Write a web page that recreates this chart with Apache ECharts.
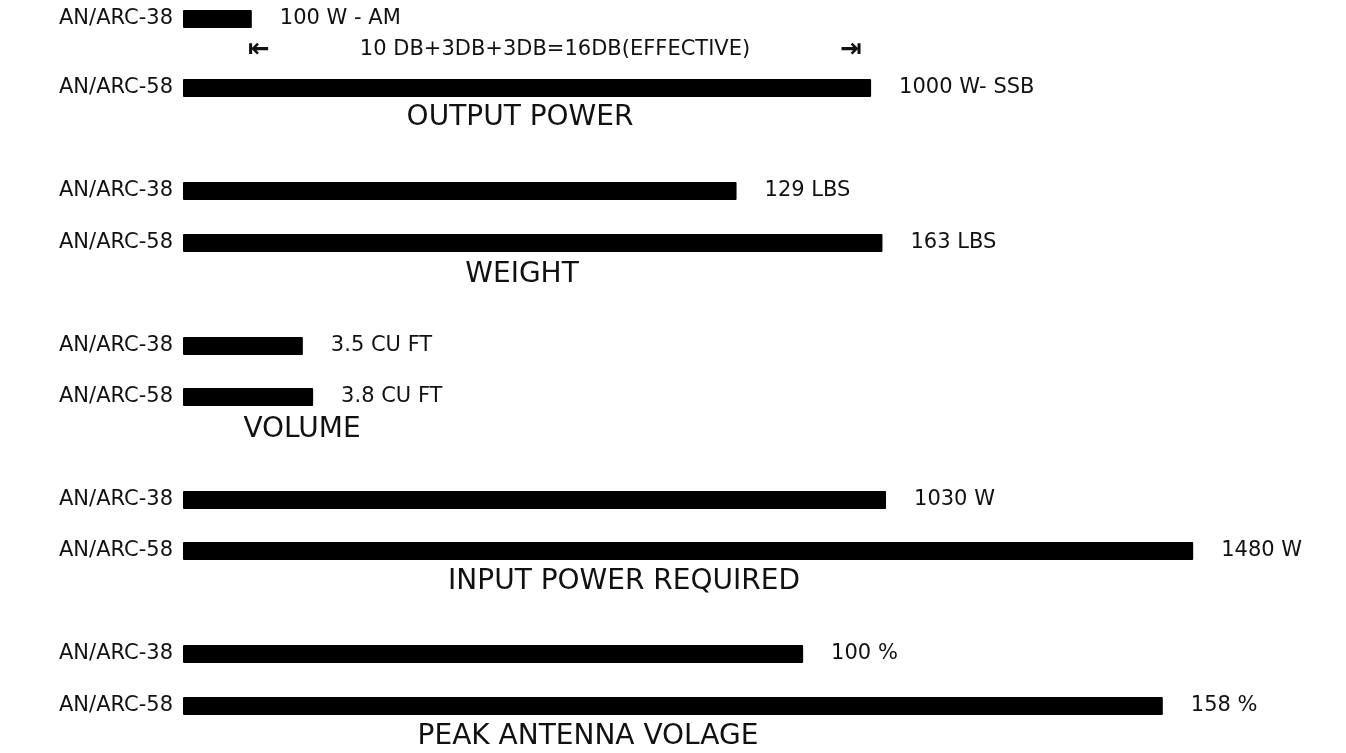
<!DOCTYPE html>
<html>
<head>
<meta charset="utf-8">
<title>AN/ARC-38 vs AN/ARC-58</title>
<script src="https://cdn.jsdelivr.net/npm/echarts@6/dist/echarts.min.js"></script>
<style>
  html, body { margin: 0; padding: 0; background: #fff; }
  #chart { width: 1346px; height: 753px; }
</style>
</head>
<body>
<div id="chart"></div>
<script>
const models = ['AN/ARC-38', 'AN/ARC-58']
const groupNames = ['OUTPUT POWER', 'WEIGHT', 'VOLUME', 'INPUT POWER REQUIRED', 'PEAK ANTENNA VOLAGE']

const outputPower = [100, 1000]   // W
const weight = [129, 163]         // LBS
const volume = [3.5, 3.8]         // CU FT
const inputPower = [1030, 1480]   // W
const peakVoltage = [100, 158]    // %

const outputLabels = ['100 W - AM', '1000 W- SSB']
const weightLabels = ['129 LBS', '163 LBS']
const volumeLabels = ['3.5 CU FT', '3.8 CU FT']
const inputLabels = ['1030 W', '1480 W']
const peakLabels = ['100 %', '158 %']

const dbNote = '10 DB+3DB+3DB=16DB(EFFECTIVE)'

const FONT = '"DejaVu Sans", "Liberation Sans", sans-serif'
const INK = '#111'

// each group is drawn to its own scale, like the original sheet
const groups = [
  { values: outputPower, labels: outputLabels, max: 1478, top: 19, height: 69, titleX: 520, titleY: 118 },
  { values: weight, labels: weightLabels, max: 237, top: 191, height: 52, titleX: 522, titleY: 275 },
  { values: volume, labels: volumeLabels, max: 29.7, top: 346, height: 51, titleX: 302, titleY: 430 },
  { values: inputPower, labels: inputLabels, max: 1490, top: 500, height: 51, titleX: 624, titleY: 582 },
  { values: peakVoltage, labels: peakLabels, max: 164, top: 654, height: 52, titleX: 588, titleY: 737 }
]

const chart = echarts.init(document.getElementById('chart'), null, { renderer: 'canvas' })

const option = {
  backgroundColor: '#fff',
  animation: false,
  grid: groups.map(g => ({ left: 183, width: 1017, top: g.top, height: g.height })),
  xAxis: groups.map((g, i) => ({
    type: 'value',
    gridIndex: i,
    min: 0,
    max: g.max,
    show: false
  })),
  yAxis: groups.map((g, i) => ({
    type: 'category',
    gridIndex: i,
    data: models,
    inverse: true,
    boundaryGap: false,
    axisLine: { show: false },
    axisTick: { show: false },
    splitLine: { show: false },
    axisLabel: { margin: 10, fontSize: 21, color: INK, fontFamily: FONT }
  })),
  series: groups.map((g, i) => ({
    type: 'bar',
    xAxisIndex: i,
    yAxisIndex: i,
    data: g.values,
    barWidth: 18,
    itemStyle: { color: '#000', borderRadius: 1 },
    label: {
      show: true,
      position: 'right',
      distance: 28,
      fontSize: 21,
      color: INK,
      fontFamily: FONT,
      formatter: p => g.labels[p.dataIndex]
    }
  })),
  graphic: [
    ...groups.map((g, i) => ({
      type: 'text',
      x: g.titleX,
      y: g.titleY,
      style: {
        text: groupNames[i],
        font: '28px ' + FONT,
        fill: INK,
        align: 'center',
        verticalAlign: 'middle'
      }
    })),
    {
      type: 'text', x: 248, y: 50,
      style: { text: '⇤', font: 'bold 26px ' + FONT, fill: INK, align: 'left', verticalAlign: 'middle' }
    },
    {
      type: 'text', x: 555, y: 50,
      style: { text: dbNote, font: '21px ' + FONT, fill: INK, align: 'center', verticalAlign: 'middle' }
    },
    {
      type: 'text', x: 862, y: 50,
      style: { text: '⇥', font: 'bold 26px ' + FONT, fill: INK, align: 'right', verticalAlign: 'middle' }
    }
  ]
}

chart.setOption(option)
window.addEventListener('resize', chart.resize)
</script>
</body>
</html>
